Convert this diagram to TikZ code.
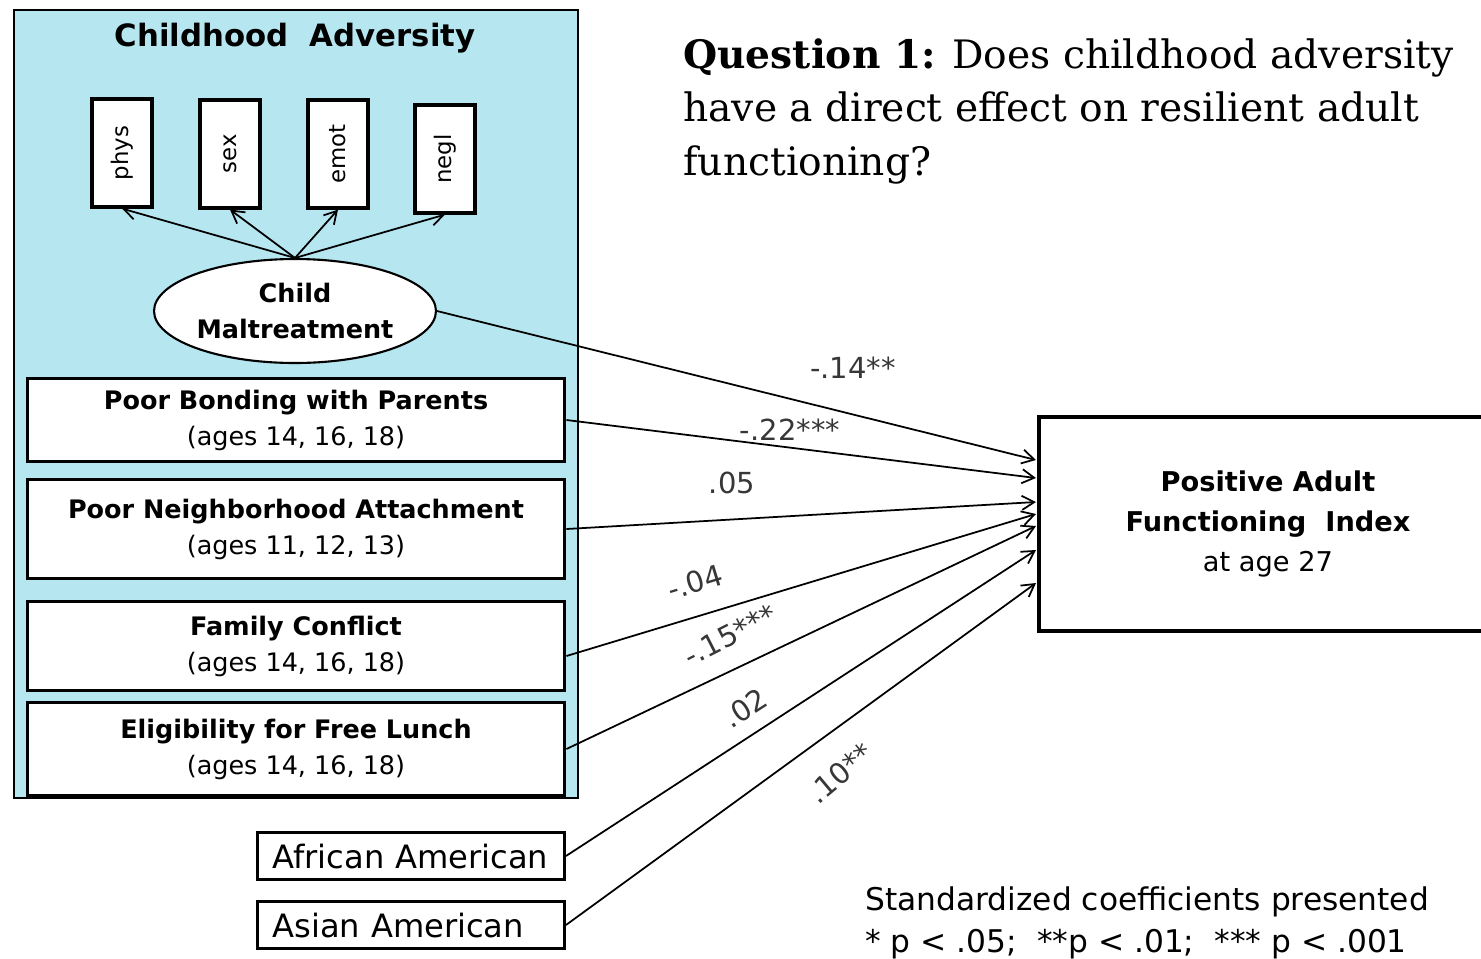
\documentclass[tikz,border=0pt]{standalone}
\usepackage{fontspec}
\usepackage{graphicx}
\setmainfont{DejaVu Sans}
\newfontfamily\questionfont{DejaVu Serif}
\usetikzlibrary{shapes.geometric,arrows.meta}
\definecolor{advblue}{RGB}{182,230,240}
\definecolor{coefgray}{RGB}{55,55,55}

\begin{document}
\begin{tikzpicture}[x=0.02cm,y=-0.02cm,
    >={Straight Barb[length=7pt,width=8pt]},
    factor/.style={draw,line width=1.7pt,fill=white,minimum width=10.76cm,align=center,
        font=\fontsize{14.5}{20.5}\selectfont},
    indicator/.style={draw,line width=1.8pt,fill=white,minimum width=1.2cm,
        minimum height=2.16cm,inner sep=0pt,font=\fontsize{13}{15}\selectfont},
    group/.style={draw,line width=1.7pt,fill=white,minimum height=0.94cm,text width=5.54cm,
        inner xsep=0.3cm,align=left,font=\fontsize{18.3}{20}\selectfont},
    coef/.style={text=coefgray,font=\fontsize{16.5}{18}\selectfont},
    path/.style={->,line width=1pt}]

    % Page frame
    \useasboundingbox (0,0) rectangle (1481,958);

    % Draw the childhood adversity panel
    \draw[fill=advblue,line width=1.2pt] (14,10) rectangle (578,798);
    \node[font=\bfseries\fontsize{17.5}{20}\selectfont] (advtitle) at (295,38) {Childhood\ \ Adversity};

    % Indicators of maltreatment
    \node[indicator] (phys) at (122,153) {\rotatebox{90}{phys}};
    \node[indicator] (sex) at (230,154) {\rotatebox{90}{sex}};
    \node[indicator] (emot) at (338,154) {\rotatebox{90}{emot}};
    \node[indicator] (negl) at (445,159) {\rotatebox{90}{negl}};

    % Latent factor
    \node[ellipse,draw,line width=1.2pt,fill=white,minimum width=5.64cm,minimum height=2.08cm,inner sep=0pt,
        align=center,font=\bfseries\fontsize{14.5}{20}\selectfont] (mal) at (295,311) {Child\\Maltreatment};
    \foreach \ind in {phys,sex,emot,negl} {
        \draw[path] (mal.north) -- (\ind.south);
    }

    % Other adversity measures
    \node[factor,minimum height=1.66cm] (bond) at (296,420) {\textbf{Poor Bonding with Parents}\\(ages 14, 16, 18)};
    \node[factor,minimum height=1.98cm] (nbhd) at (296,529) {\textbf{Poor Neighborhood Attachment}\\(ages 11, 12, 13)};
    \node[factor,minimum height=1.78cm] (conf) at (296,646) {\textbf{Family Conflict}\\(ages 14, 16, 18)};
    \node[factor,minimum height=1.86cm] (lunch) at (296,749) {\textbf{Eligibility for Free Lunch}\\(ages 14, 16, 18)};

    % Ethnicity controls
    \node[group] (afam) at (411,856) {\mbox{African American}};
    \node[group] (asam) at (411,925) {\mbox{Asian American}};

    % Outcome
    \node[draw,line width=1.8pt,minimum width=9.16cm,minimum height=4.28cm,align=center,
        font=\fontsize{15.5}{23}\selectfont] (pafi) at (1268,524)
        {\textbf{Positive Adult}\\\textbf{Functioning\ \ Index}\\at age 27};

    % Arrow ends on the outcome box
    \coordinate (in1) at (1036,460);
    \coordinate (in2) at (1036,478);
    \coordinate (in3) at (1036,502);
    \coordinate (in4) at (1036,514);
    \coordinate (in5) at (1036,526);
    \coordinate (in6) at (1036,550);
    \coordinate (in7) at (1036,583);

    % Draw the paths
    \draw[path] (mal.east) -- (in1);
    \draw[path] (bond.east) -- (in2);
    \draw[path] (nbhd.east) -- (in3);
    \draw[path] ([yshift=-0.2cm]conf.east) -- (in4);
    \draw[path] (lunch.east) -- (in5);
    \draw[path] (afam.east) -- (in6);
    \draw[path] (asam.east) -- (in7);

    % Coefficients
    \node[coef] (c1) at (853,368) {-.14**};
    \node[coef] (c2) at (790,430) {-.22***};
    \node[coef] (c3) at (732,483) {.05};
    \node[coef,rotate=17] (c4) at (695,582) {-.04};
    \node[coef,rotate=27] (c5) at (730,635) {-.15***};
    \node[coef,rotate=33] (c6) at (745,708) {.02};
    \node[coef,rotate=40] (c7) at (840,773) {.10**};

    % Research question
    \node[anchor=north west,align=left,inner sep=0pt,font=\questionfont\fontsize{22.3}{30.5}\selectfont] (question)
        at (683,38) {\textbf{Question 1:} Does childhood adversity\\have a direct effect on resilient adult\\functioning?};

    % Legend
    \node[anchor=north west,align=left,inner sep=0pt,font=\fontsize{17.8}{24}\selectfont] (legend)
        at (865,886) {Standardized coefficients presented\\* p < .05;\ \ **p < .01;\ \ *** p < .001};
\end{tikzpicture}
\end{document}
